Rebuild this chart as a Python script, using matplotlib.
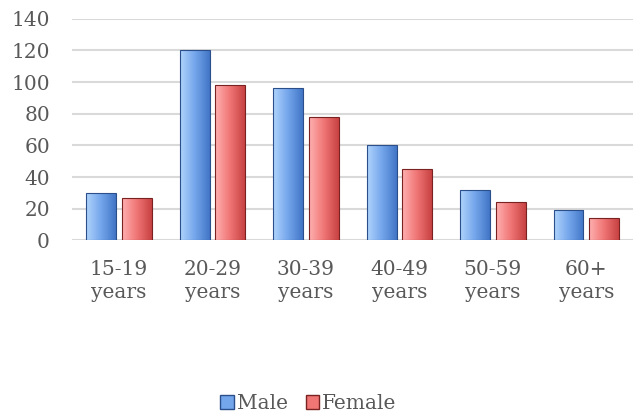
import numpy as np
import matplotlib.pyplot as plt
from matplotlib.colors import LinearSegmentedColormap

# Data
groups = ['15-19\nyears', '20-29\nyears', '30-39\nyears', '40-49\nyears', '50-59\nyears', '60+\nyears']
male = [30, 120, 96, 60, 32, 19]
female = [27, 98, 78, 45, 24, 14]

plt.rcParams['font.family'] = ['DejaVu Serif']

fig = plt.figure(figsize=(6.33, 4.18), dpi=100)
ax = fig.add_axes([0.114, 0.425, 0.886, 0.53])

x = np.arange(len(groups))
w = 0.32
off = 0.19

male_cmap = LinearSegmentedColormap.from_list('m', ['#b0d3fb', '#74a6ec', '#4276c6'])
female_cmap = LinearSegmentedColormap.from_list('f', ['#ffb0b0', '#f07575', '#c84242'])

def gradient_bars(xs, vals, cmap, edge):
    bars = ax.bar(xs, vals, w, color='none', edgecolor=edge, linewidth=0.8, zorder=3)
    grad = np.linspace(0, 1, 64).reshape(1, -1)
    for b in bars:
        x0, y0 = b.get_x(), b.get_y()
        im = ax.imshow(grad, cmap=cmap, extent=[x0, x0 + b.get_width(), y0, y0 + b.get_height()],
                       aspect='auto', zorder=2)
        im.set_clip_path(b)
    return bars

gradient_bars(x - off, male, male_cmap, '#2a4f8a')
gradient_bars(x + off, female, female_cmap, '#7a2222')

ax.set_xlim(-0.5, len(groups) - 0.5)
ax.set_ylim(0, 140)
ax.set_yticks(range(0, 141, 20))
ax.yaxis.grid(True, color='#d9d9d9', linewidth=1.5, zorder=0)
ax.set_axisbelow(True)
for s in ax.spines.values():
    s.set_visible(False)
ax.tick_params(axis='both', length=0, labelsize=14.5, colors='#595959')
ax.tick_params(axis='y', pad=16)
ax.tick_params(axis='x', pad=14)
ax.set_xticks(x)
ax.set_xticklabels(groups, linespacing=1.25)

# Legend
handles = [plt.Rectangle((0, 0), 1, 1, fc='#74a6ec', ec='#2a4f8a'),
           plt.Rectangle((0, 0), 1, 1, fc='#f07575', ec='#7a2222')]
leg = fig.legend(handles, ['Male', 'Female'], loc='center', bbox_to_anchor=(0.487, 0.035),
                 ncol=2, frameon=False, fontsize=14.5, handlelength=0.65, handleheight=0.65,
                 handletextpad=0.15, columnspacing=0.9)
for t in leg.get_texts():
    t.set_color('#595959')

fig.savefig('out.png', dpi=100)
